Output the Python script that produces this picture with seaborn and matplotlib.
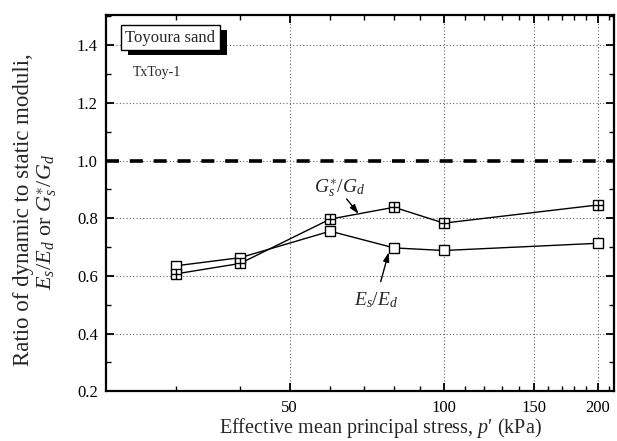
import matplotlib
matplotlib.use("Agg")
import numpy as np
import pandas as pd
import seaborn as sns
import matplotlib.pyplot as plt
from matplotlib import patheffects
from matplotlib.ticker import FixedLocator, FixedFormatter, NullFormatter

# ---- data ----
p_kpa = [30, 40, 60, 80, 100, 200]
es_ed = [0.635, 0.663, 0.755, 0.697, 0.688, 0.713]
gs_gd = [0.607, 0.643, 0.797, 0.838, 0.783, 0.846]
ref_ratio = 1.0
x_major = [50, 100, 150, 200]
x_major_labels = ["50", "100", "150", "200"]
x_minor = [30, 40, 60, 70, 80, 90, 110, 120, 130, 140, 160, 170, 180, 190, 210]
y_major = [0.2, 0.4, 0.6, 0.8, 1.0, 1.2, 1.4]
y_major_labels = ["0.2", "0.4", "0.6", "0.8", "1.0", "1.2", "1.4"]
y_minor = [0.3, 0.5, 0.7, 0.9, 1.1, 1.3, 1.5]

sns.set_style("ticks")
plt.rcParams["font.family"] = ["Liberation Serif", "DejaVu Serif"]
plt.rcParams["mathtext.fontset"] = "custom"
plt.rcParams["mathtext.rm"] = "Liberation Serif"
plt.rcParams["mathtext.it"] = "Liberation Serif:italic"
plt.rcParams["mathtext.bf"] = "Liberation Serif:bold"

df = pd.DataFrame({"p": p_kpa, "E": es_ed, "G": gs_gd})

fig = plt.figure(figsize=(6.17, 4.41), dpi=100)
ax = fig.add_axes([0.172, 0.113, 0.823, 0.853])
ax.set_xscale("log")

# grid
for xv in x_major:
    ax.axvline(xv, color="0.4", ls=(0, (1, 2)), lw=0.8, zorder=0)
for yv in y_major[1:]:
    ax.axhline(yv, color="0.4", ls=(0, (1, 2)), lw=0.8, zorder=0)

# reference line
ax.axhline(ref_ratio, color="black", lw=2.6, ls=(0, (3.6, 3.0)), zorder=1)

# series
sns.lineplot(data=df, x="p", y="E", ax=ax, color="black", lw=1.0, marker="s",
             markersize=7.5, markerfacecolor="white", markeredgecolor="black",
             markeredgewidth=1.0, zorder=3)
sns.lineplot(data=df, x="p", y="G", ax=ax, color="black", lw=1.0, marker="s",
             markersize=7.5, markerfacecolor="white", markeredgecolor="black",
             markeredgewidth=1.0, zorder=4)
ax.plot(df["p"], df["G"], ls="none", marker="+", markersize=7.5,
        markeredgewidth=1.0, color="black", zorder=5)

ax.set_xlim(21.9, 215)
ax.set_ylim(0.2, 1.505)

ax.xaxis.set_major_locator(FixedLocator(x_major))
ax.xaxis.set_major_formatter(FixedFormatter(x_major_labels))
ax.xaxis.set_minor_locator(FixedLocator(x_minor))
ax.xaxis.set_minor_formatter(NullFormatter())
ax.yaxis.set_major_locator(FixedLocator(y_major))
ax.yaxis.set_major_formatter(FixedFormatter(y_major_labels))
ax.yaxis.set_minor_locator(FixedLocator(y_minor))

ax.tick_params(which="both", direction="in", top=True, right=True,
               labelsize=12, color="black", labelcolor="black")
ax.tick_params(which="major", length=6, width=1.3, pad=6)
ax.tick_params(which="minor", length=3.5, width=1.0)
for s in ax.spines.values():
    s.set_linewidth(1.6)
    s.set_color("black")

ax.set_xlabel("Effective mean principal stress, $p$\u2032 (kPa)", fontsize=14.5)
ax.xaxis.set_label_coords(0.54, -0.066)
ax.set_ylabel("")

# y-axis label (two lines placed separately)
fig.text(24 / 617, 1 - 210 / 441, "Ratio of dynamic to static moduli,",
         rotation=90, fontsize=16.5, ha="center", va="center")
fig.text(47 / 617, 1 - 222 / 441, "$E_s/E_d$ or $G_s^{\\ast}/G_d$",
         rotation=90, fontsize=16, ha="center", va="center")

# labels box
t = ax.text(0.038, 0.94, "Toyoura sand", transform=ax.transAxes, fontsize=12,
            ha="left", va="center",
            bbox=dict(boxstyle="square,pad=0.25", fc="white", ec="black", lw=1.0))
t.get_bbox_patch().set_path_effects([
    patheffects.SimplePatchShadow(offset=(5, -3.5), shadow_rgbFace="black", alpha=1.0),
    patheffects.Normal()])
ax.text(0.053, 0.848, "TxToy-1", transform=ax.transAxes, fontsize=10,
        ha="left", va="center")

# annotations
arrow_kw = dict(arrowstyle="-|>,head_length=0.55,head_width=0.18",
                color="black", lw=1.0, shrinkA=0, shrinkB=0)
ax.text(62.5, 0.905, "$G_s^{\\ast}/G_d$", fontsize=14, ha="center", va="center")
ax.annotate("", xy=(68.2, 0.815), xytext=(64.6, 0.867), arrowprops=arrow_kw)
ax.text(73.6, 0.515, "$E_s/E_d$", fontsize=14, ha="center", va="center")
ax.annotate("", xy=(78.1, 0.682), xytext=(75.3, 0.58), arrowprops=arrow_kw)

fig.savefig("out.png", dpi=100)
